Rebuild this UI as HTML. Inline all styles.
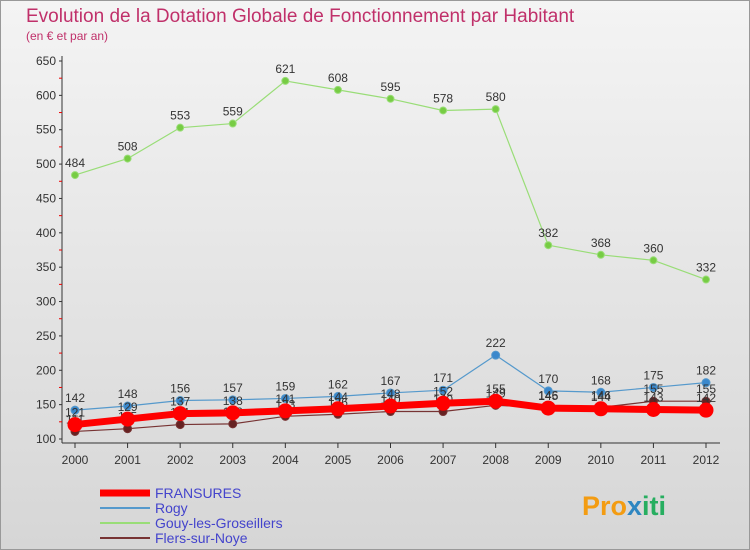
<!DOCTYPE html>
<html><head><meta charset="utf-8"><style>
body{margin:0;background:#fff}
svg{display:block;font-family:"Liberation Sans","DejaVu Sans",sans-serif}
</style></head><body>
<svg id="c" width="750" height="550" viewBox="0 0 750 550">
<defs>
<linearGradient id="bg" x1="0" y1="0" x2="0" y2="1"><stop offset="0" stop-color="#f4f4f4"/><stop offset="1" stop-color="#d6d6d6"/></linearGradient>
</defs>
<rect x="0.5" y="0.5" width="749" height="549" fill="url(#bg)" stroke="#999"/>
<text x="26" y="22" font-size="19" fill="#c0306a">Evolution de la Dotation Globale de Fonctionnement par Habitant</text>
<text x="26" y="40" font-size="12" fill="#c0306a">(en € et par an)</text>
<g id="axes"></g>
<g id="series"></g>
<g id="legend"></g>
<g>
<text x="582" y="515" font-size="27" font-weight="bold" fill="#f39c12">Pro<tspan fill="#2e86c1">x</tspan><tspan fill="#27ae60">iti</tspan></text>
</g>
</svg>
<script>
const years=[2000,2001,2002,2003,2004,2005,2006,2007,2008,2009,2010,2011,2012];
const yTicks=[100,150,200,250,300,350,400,450,500,550,600,650];
const fransures=[121,129,137,138,141,144,148,152,155,145,144,143,142];
const rogy=[142,148,156,157,159,162,167,171,222,170,168,175,182];
const gouy=[484,508,553,559,621,608,595,578,580,382,368,360,332];
const flers=[111,115,121,122,133,136,140,140,149,146,146,155,155];
const NS='http://www.w3.org/2000/svg';
const X0=75,X1=706,Y0=439,Y1=61;
const xs=i=>X0+(X1-X0)*i/(years.length-1);
const ys=v=>Y0-(v-100)*(Y0-Y1)/550;
function mk(t,a,p){const e=document.createElementNS(NS,t);for(const k in a)e.setAttribute(k,a[k]);p.appendChild(e);return e;}
const ax=document.getElementById('axes');
const yaxis=mk('line',{x1:62,y1:56,x2:62,y2:443,stroke:'#333'},ax);


const xaxis=mk('line',{x1:62,y1:443,x2:720,y2:443,stroke:'#333'},ax);


yTicks.forEach(v=>{
  const y=ys(v);
  mk('line',{x1:59,y1:y,x2:62,y2:y,stroke:'#333'},ax);
  const t=mk('text',{x:56,y:y+4,'font-size':12,'text-anchor':'end',fill:'#333'},ax);
  t.textContent=v;
  
  
  if(v<650){const ym=ys(v+25);mk('line',{x1:59,y1:ym,x2:62,y2:ym,stroke:'#e00'},ax);}
});
years.forEach((yr,i)=>{
  const x=xs(i);
  mk('line',{x1:x,y1:443,x2:x,y2:448,stroke:'#333'},ax);
  const t=mk('text',{x:x,y:464,'font-size':12,'text-anchor':'middle',fill:'#333'},ax);
  t.textContent=yr;
  
  
});
const sg=document.getElementById('series');
function series(data,name,color,w,r,dot,labels){
  const g=mk('g',{},sg);
  
  
  mk('polyline',{points:data.map((v,i)=>xs(i)+','+ys(v)).join(' '),fill:'none',stroke:color,'stroke-width':w,'stroke-linejoin':'round'},g);
  data.forEach((v,i)=>{
    const c=mk('circle',{cx:xs(i),cy:ys(v),r:r,fill:dot,stroke:color,'stroke-width':1},g);
    
    
    if(labels){const t=mk('text',{x:xs(i),y:ys(v)-8,'font-size':12,'text-anchor':'middle',fill:'#333'},g);t.textContent=v;
      
      }
  });
}
series(gouy,'gouy','#99dd77',1.2,3.5,'#77cc44',true);
series(rogy,'rogy','#5599cc',1.2,4,'#3a88cc',true);
series(flers,'flers','#773333',1.2,4,'#662222',true);
series(fransures,'fransures','#ff0000',7,7,'#ff0000',true);
const lg=document.getElementById('legend');
[['FRANSURES','#ff0000',7],['Rogy','#5599cc',2],['Gouy-les-Groseillers','#99dd77',2],['Flers-sur-Noye','#773333',2]].forEach((d,i)=>{
  const y=493+i*15;
  const g=mk('g',{},lg);
  
  
  mk('line',{x1:100,y1:y,x2:150,y2:y,stroke:d[1],'stroke-width':d[2]},g);
  const t=mk('text',{x:155,y:y+5,'font-size':14,fill:'#4444cc'},g);t.textContent=d[0];
});
</script>
</body></html>
